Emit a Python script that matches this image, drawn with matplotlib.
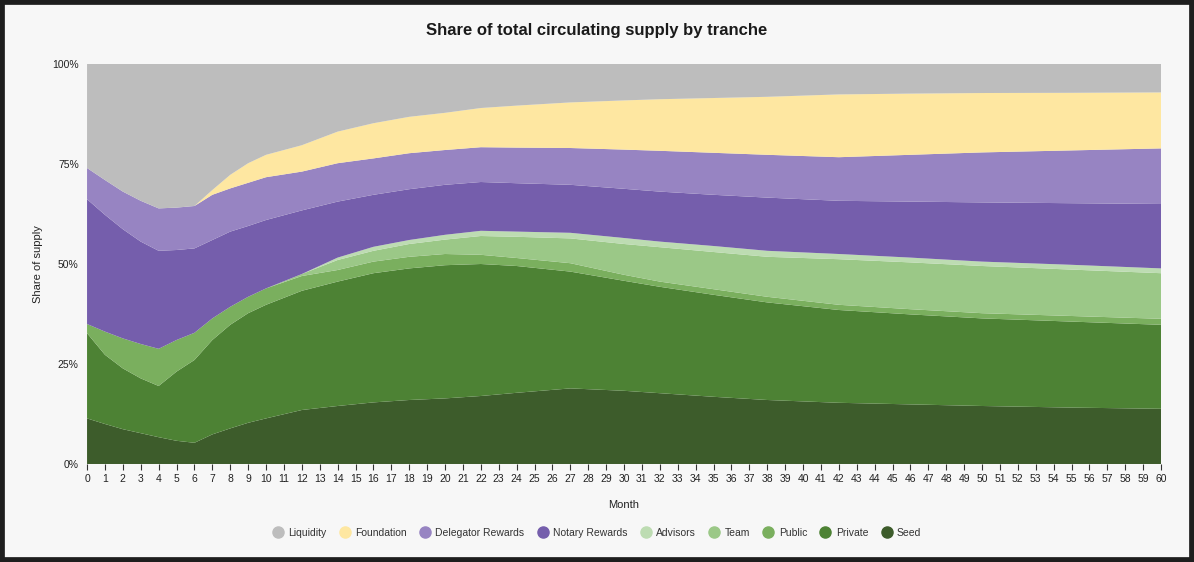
import matplotlib
matplotlib.use("Agg")
import matplotlib.pyplot as plt
from matplotlib.lines import Line2D
from matplotlib.patches import Rectangle
from matplotlib.ticker import FuncFormatter

plt.rcParams['font.family'] = ['Liberation Sans', 'DejaVu Sans']

months = [0, 1, 2, 3, 4, 5, 6, 7, 8, 9, 10, 12, 14, 16, 18, 20, 22, 24, 27, 30,
          32, 35, 38, 42, 46, 50, 55, 60]

seed = [11.4, 10.0, 8.7, 7.7, 6.7, 5.8, 5.3, 7.4, 8.9, 10.3, 11.4, 13.5, 14.5, 15.4,
        16.0, 16.4, 17.0, 17.8, 18.9, 18.3, 17.7, 16.8, 16.0, 15.3, 14.9, 14.5, 14.1, 13.8]
private = [21.3, 17.3, 15.2, 13.7, 12.8, 17.3, 20.7, 23.6, 25.9, 27.4, 28.4, 29.8, 31.1, 32.3,
           32.9, 33.3, 33.0, 31.7, 29.2, 27.5, 26.6, 25.5, 24.4, 23.2, 22.5, 21.9, 21.5, 21.0]
public = [2.3, 5.8, 7.5, 8.6, 9.3, 7.9, 6.8, 5.4, 4.5, 4.1, 4.1, 3.7, 2.9, 2.9,
          2.9, 2.8, 2.3, 2.0, 2.1, 1.5, 1.3, 1.4, 1.4, 1.3, 1.3, 1.3, 1.4, 1.5]
team = [0, 0, 0, 0, 0, 0, 0, 0, 0, 0, 0, 0.5, 2.5, 2.7,
        3.2, 3.6, 4.7, 5.3, 6.2, 7.7, 8.6, 9.3, 10.0, 11.4, 11.7, 11.8, 11.6, 11.4]
advisors = [0, 0, 0, 0, 0, 0, 0, 0, 0, 0, 0, 0, 0.6, 1.0,
            1.0, 1.2, 1.3, 1.3, 1.4, 1.5, 1.4, 1.5, 1.5, 1.3, 1.2, 1.1, 1.2, 1.2]
notary = [31.2, 29.2, 27.3, 25.6, 24.5, 22.5, 21.1, 19.6, 18.8, 17.7, 17.1, 15.9, 14.0, 13.0,
          12.7, 12.5, 12.2, 12.1, 12.0, 12.3, 12.5, 12.8, 13.3, 13.3, 14.0, 14.8, 15.4, 16.1]
delegator = [7.8, 8.7, 9.4, 10.2, 10.6, 10.6, 10.6, 11.3, 10.8, 10.8, 10.7, 9.7, 9.6, 9.1,
             9.0, 8.7, 8.7, 8.9, 9.2, 9.8, 10.2, 10.5, 10.7, 10.9, 11.7, 12.5, 13.2, 13.9]
foundation = [0, 0, 0, 0, 0, 0, 0, 1.2, 3.4, 4.9, 5.6, 6.6, 7.9, 8.8,
              9.1, 9.3, 9.8, 10.5, 11.4, 12.3, 12.9, 13.7, 14.5, 15.7, 15.3, 14.85, 14.4, 14.0]
liquidity = [26.0, 29.0, 31.9, 34.2, 36.1, 35.9, 35.5, 31.5, 27.7, 24.8, 22.7, 20.3, 16.9, 14.8,
             13.2, 12.2, 11.0, 10.4, 9.6, 9.1, 8.8, 8.5, 8.2, 7.6, 7.4, 7.25, 7.2, 7.1]

series_names = ["Seed", "Private", "Public", "Team", "Advisors",
                "Notary Rewards", "Delegator Rewards", "Foundation", "Liquidity"]
series_values = [seed, private, public, team, advisors, notary, delegator, foundation, liquidity]
series_colors = ["#3d5c2b", "#4d8234", "#7aaf5e", "#9bc887", "#bddcb2",
                 "#755eac", "#9784c2", "#fee7a1", "#bdbdbd"]
y_ticks = [0, 25, 50, 75, 100]

fig = plt.figure(figsize=(11.94, 5.62), dpi=100)
fig.patch.set_facecolor("#f7f7f7")
fig.patches.append(Rectangle((0, 0), 1, 1, transform=fig.transFigure, fill=False,
                             edgecolor="#1e1e1e", linewidth=7, zorder=10))

ax = fig.add_axes([0.0729, 0.1744, 0.8995, 0.7117])
ax.set_facecolor("#f7f7f7")

ax.stackplot(months, *series_values, colors=series_colors, labels=series_names,
             linewidth=0)

ax.set_xlim(0, 60)
ax.set_ylim(0, 100)
ax.set_xticks(range(0, 61))
ax.set_xticklabels([str(m) for m in range(0, 61)], fontsize=7.5, color="#222222")
ax.set_yticks(y_ticks)
ax.yaxis.set_major_formatter(FuncFormatter(lambda v, p: f"{int(v)}%"))
ax.tick_params(axis="y", length=0, labelsize=7.5, labelcolor="#222222", pad=6)
ax.tick_params(axis="x", length=4, width=0.8, color="#333333", pad=3)
for s in ax.spines.values():
    s.set_visible(False)

ax.set_xlabel("Month", fontsize=8, color="#222222", labelpad=12)
ax.set_ylabel("Share of supply", fontsize=8, color="#222222")
ax.yaxis.set_label_coords(-0.041, 0.5)

fig.text(0.5, 0.945, "Share of total circulating supply by tranche", ha="center",
         va="center", fontsize=12, fontweight="bold", color="#1a1a1a")

handles = [Line2D([0], [0], marker="o", linestyle="none", markersize=8,
                  markerfacecolor=c, markeredgecolor=c)
           for c in series_colors[::-1]]
fig.legend(handles, series_names[::-1], loc="center", bbox_to_anchor=(0.5, 0.052),
           ncol=9, frameon=False, fontsize=7.5, handlelength=1.0, handletextpad=0.5,
           columnspacing=1.25, labelcolor="#333333")

fig.savefig("out.png", dpi=100, facecolor=fig.get_facecolor())
